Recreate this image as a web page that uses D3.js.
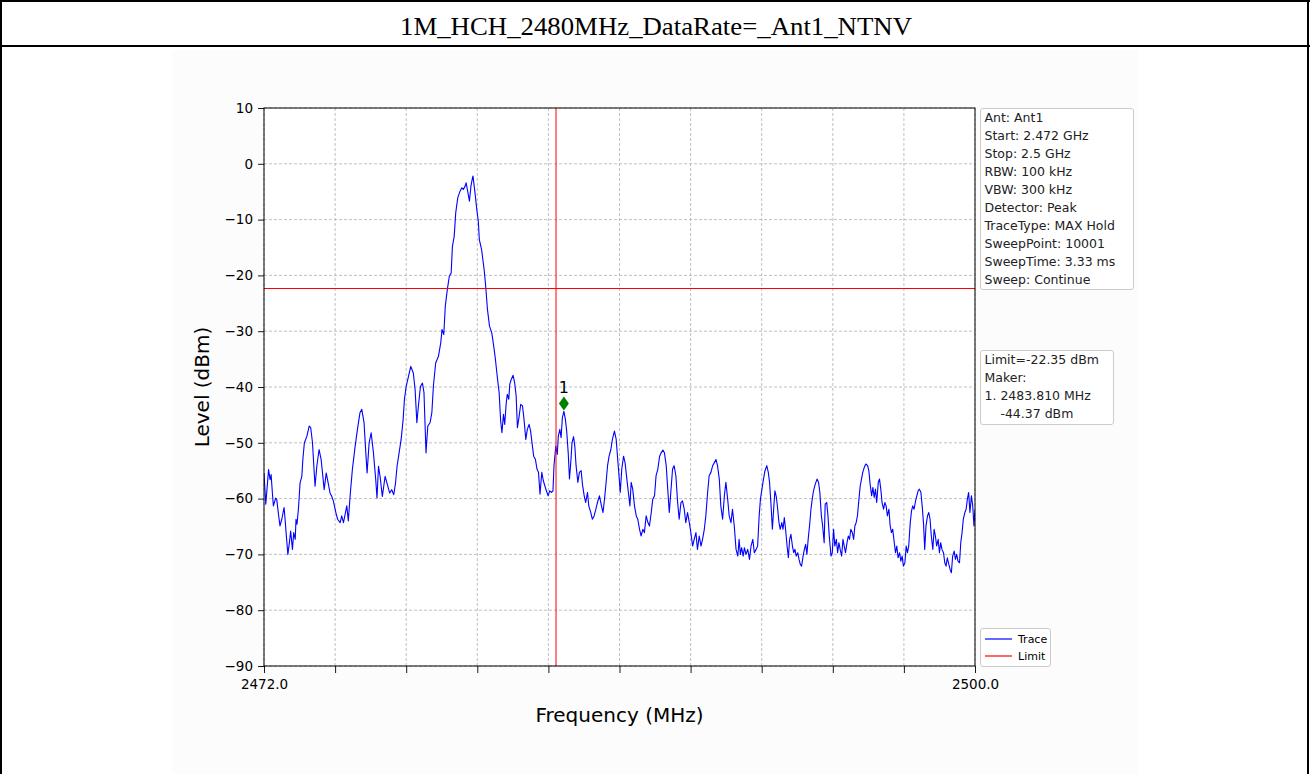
<!DOCTYPE html>
<html>
<head>
<meta charset="utf-8">
<script src="https://cdn.jsdelivr.net/npm/d3@7"></script>
<style>
  html, body { margin: 0; padding: 0; background: #fff; }
  svg { display: block; }
  text { font-family: "DejaVu Sans", sans-serif; }
</style>
</head>
<body>
<svg id="chart" width="1310" height="774"></svg>
<script>
// ---- data -------------------------------------------------------------
const title = "1M_HCH_2480MHz_DataRate=_Ant1_NTNV";
const freqStartMHz = 2472.0;
const freqStopMHz = 2500.0;
const levelTicks = [10, 0, -10, -20, -30, -40, -50, -60, -70, -80, -90];
const freqTicks = [2472.0, 2474.8, 2477.6, 2480.4, 2483.2, 2486.0, 2488.8, 2491.6, 2494.4, 2497.2, 2500.0];
const freqTickLabels = ["2472.0", "", "", "", "", "", "", "", "", "", "2500.0"];
const limitDbm = -22.35;
const bandEdgeMHz = 2483.5;
const marker = { id: "1", freqMHz: 2483.810, levelDbm: -44.37 };
const infoLines = [
  "Ant: Ant1", "Start: 2.472 GHz", "Stop: 2.5 GHz", "RBW: 100 kHz", "VBW: 300 kHz",
  "Detector: Peak", "TraceType: MAX Hold", "SweepPoint: 10001", "SweepTime: 3.33 ms", "Sweep: Continue"
];
const limitLines = ["Limit=-22.35 dBm", "Maker:", "1. 2483.810 MHz", "    -44.37 dBm"];
const legendItems = [{ name: "Trace", color: "#0000ff" }, { name: "Limit", color: "#ff0000" }];

// max-hold trace: [frequency MHz, level dBm]
const trace = [
  [2472.00,-55.4],[2472.07,-61.0],[2472.18,-54.8],[2472.24,-56.6],[2472.28,-55.7],[2472.33,-59.0],[2472.37,-61.3],[2472.46,-59.9],[2472.50,-60.1],[2472.57,-62.8],
  [2472.63,-64.9],[2472.70,-63.7],[2472.79,-61.6],[2472.83,-63.7],[2472.87,-66.1],[2472.94,-70.0],[2473.00,-67.9],[2473.05,-65.8],[2473.12,-69.1],[2473.17,-66.1],
  [2473.23,-67.3],[2473.26,-63.7],[2473.30,-64.6],[2473.36,-61.6],[2473.42,-57.2],[2473.49,-56.0],[2473.53,-53.0],[2473.59,-50.0],[2473.69,-48.8],[2473.78,-47.0],
  [2473.84,-47.3],[2473.91,-50.0],[2473.97,-54.8],[2474.01,-57.8],[2474.08,-54.2],[2474.17,-51.2],[2474.25,-53.0],[2474.33,-56.6],[2474.37,-58.4],[2474.45,-55.4],
  [2474.54,-57.5],[2474.60,-59.0],[2474.67,-59.6],[2474.73,-60.4],[2474.83,-62.5],[2474.90,-63.7],[2475.00,-64.3],[2475.06,-63.1],[2475.13,-64.3],[2475.26,-61.3],
  [2475.32,-64.0],[2475.40,-59.0],[2475.48,-54.8],[2475.59,-50.6],[2475.68,-47.6],[2475.78,-44.6],[2475.85,-44.0],[2475.94,-46.4],[2476.01,-51.8],[2476.06,-55.4],
  [2476.14,-50.0],[2476.22,-48.2],[2476.31,-51.8],[2476.40,-56.6],[2476.45,-59.9],[2476.51,-54.2],[2476.57,-56.0],[2476.66,-59.6],[2476.77,-56.0],[2476.86,-57.5],
  [2476.95,-59.0],[2477.03,-58.4],[2477.11,-59.3],[2477.18,-57.2],[2477.24,-54.2],[2477.32,-51.8],[2477.40,-49.4],[2477.48,-45.8],[2477.53,-42.2],[2477.60,-39.9],
  [2477.69,-38.1],[2477.78,-36.3],[2477.88,-37.5],[2477.95,-40.4],[2478.02,-46.4],[2478.08,-43.4],[2478.16,-39.9],[2478.24,-39.3],[2478.30,-41.0],[2478.38,-51.8],
  [2478.45,-47.0],[2478.54,-46.4],[2478.61,-44.6],[2478.67,-39.9],[2478.76,-35.7],[2478.87,-34.5],[2478.96,-32.1],[2479.01,-29.7],[2479.08,-30.6],[2479.14,-25.5],
  [2479.22,-22.5],[2479.30,-20.1],[2479.37,-19.6],[2479.42,-14.8],[2479.49,-13.0],[2479.55,-8.8],[2479.63,-6.1],[2479.72,-4.9],[2479.79,-4.3],[2479.85,-4.6],
  [2479.92,-4.0],[2479.96,-3.4],[2480.02,-4.9],[2480.09,-6.7],[2480.15,-4.0],[2480.21,-2.5],[2480.23,-2.2],[2480.31,-5.2],[2480.38,-8.2],[2480.44,-10.3],
  [2480.48,-13.6],[2480.57,-15.4],[2480.67,-19.0],[2480.73,-21.9],[2480.80,-26.1],[2480.88,-29.1],[2480.97,-30.3],[2481.01,-31.5],[2481.10,-34.5],
  [2481.19,-38.3],[2481.26,-41.0],[2481.32,-46.1],[2481.37,-48.2],[2481.43,-44.9],[2481.48,-46.7],[2481.54,-42.8],[2481.58,-41.3],[2481.64,-42.2],[2481.68,-39.5],
  [2481.74,-38.6],[2481.81,-37.9],[2481.87,-39.2],[2481.93,-41.6],[2481.98,-47.3],[2482.04,-45.5],[2482.11,-43.1],[2482.18,-43.4],[2482.24,-45.8],[2482.31,-49.4],
  [2482.37,-47.6],[2482.44,-46.7],[2482.50,-47.9],[2482.57,-50.6],[2482.62,-52.4],[2482.69,-53.0],[2482.75,-54.7],[2482.81,-55.3],[2482.87,-59.2],[2482.94,-55.3],
  [2483.00,-56.8],[2483.06,-57.7],[2483.12,-58.6],[2483.19,-59.5],[2483.25,-58.6],[2483.32,-58.9],[2483.38,-58.6],[2483.42,-54.1],[2483.49,-50.6],[2483.55,-52.1],
  [2483.59,-48.8],[2483.65,-47.6],[2483.70,-49.1],[2483.75,-45.5],[2483.81,-44.37],[2483.87,-45.8],[2483.92,-47.9],[2483.98,-51.8],[2484.03,-56.5],[2484.08,-53.6],
  [2484.13,-50.0],[2484.19,-48.9],[2484.24,-50.6],[2484.29,-54.1],[2484.36,-57.1],[2484.42,-55.3],[2484.49,-55.0],[2484.54,-57.4],[2484.61,-59.5],[2484.67,-60.7],
  [2484.74,-58.9],[2484.79,-61.3],[2484.87,-62.5],[2484.93,-63.7],[2485.00,-63.1],[2485.07,-61.9],[2485.13,-60.7],[2485.21,-59.5],[2485.29,-61.3],[2485.35,-62.5],
  [2485.41,-60.1],[2485.46,-57.7],[2485.53,-54.1],[2485.59,-52.4],[2485.66,-51.2],[2485.72,-49.4],[2485.80,-47.9],[2485.87,-49.4],[2485.93,-53.0],[2485.99,-56.5],
  [2486.03,-58.9],[2486.09,-54.7],[2486.16,-52.4],[2486.22,-53.6],[2486.29,-56.5],[2486.35,-58.9],[2486.41,-61.3],[2486.46,-57.1],[2486.52,-58.3],[2486.59,-61.3],
  [2486.66,-63.1],[2486.72,-63.7],[2486.79,-65.5],[2486.85,-66.7],[2486.92,-65.5],[2486.98,-66.1],[2487.05,-63.1],[2487.12,-64.3],[2487.18,-64.9],[2487.25,-62.5],
  [2487.31,-60.1],[2487.38,-59.5],[2487.44,-55.9],[2487.51,-54.7],[2487.58,-52.4],[2487.64,-51.8],[2487.71,-51.3],[2487.77,-51.8],[2487.84,-54.1],[2487.90,-58.3],
  [2487.96,-62.5],[2488.02,-58.9],[2488.09,-54.7],[2488.15,-54.1],[2488.22,-55.9],[2488.29,-60.7],[2488.35,-63.7],[2488.42,-60.7],[2488.48,-60.4],[2488.55,-61.9],
  [2488.61,-64.3],[2488.68,-62.5],[2488.75,-64.3],[2488.81,-66.1],[2488.88,-68.5],[2488.94,-67.3],[2489.01,-66.1],[2489.07,-69.1],[2489.14,-66.7],[2489.21,-68.5],
  [2489.27,-67.3],[2489.34,-65.5],[2489.40,-63.1],[2489.47,-58.9],[2489.53,-55.9],[2489.60,-55.3],[2489.67,-54.1],[2489.73,-53.6],[2489.80,-53.0],[2489.86,-54.1],
  [2489.93,-56.5],[2489.99,-61.3],[2490.06,-63.7],[2490.13,-59.5],[2490.19,-57.1],[2490.26,-60.1],[2490.32,-63.1],[2490.39,-64.3],[2490.45,-61.9],[2490.52,-64.9],
  [2490.59,-69.1],[2490.66,-70.3],[2490.71,-67.3],[2490.76,-70.0],[2490.81,-68.8],[2490.87,-70.3],[2490.92,-68.8],[2490.98,-70.0],[2491.05,-69.1],[2491.12,-70.9],
  [2491.18,-68.5],[2491.25,-67.3],[2491.31,-69.7],[2491.38,-69.1],[2491.44,-68.5],[2491.50,-63.1],[2491.55,-60.1],[2491.61,-58.3],[2491.67,-56.5],[2491.73,-55.0],
  [2491.80,-54.1],[2491.86,-55.3],[2491.91,-57.1],[2491.97,-61.3],[2492.02,-65.5],[2492.07,-61.9],[2492.12,-58.6],[2492.18,-59.8],[2492.23,-61.9],[2492.28,-64.3],
  [2492.33,-65.5],[2492.39,-64.3],[2492.44,-65.5],[2492.49,-63.4],[2492.54,-65.5],[2492.60,-68.5],[2492.65,-70.6],[2492.70,-67.3],[2492.75,-66.4],[2492.81,-68.5],
  [2492.86,-69.7],[2492.91,-69.1],[2492.96,-70.3],[2493.02,-69.7],[2493.07,-70.9],[2493.12,-71.8],[2493.17,-72.1],[2493.23,-70.3],[2493.28,-69.1],[2493.33,-68.2],
  [2493.38,-70.0],[2493.43,-67.3],[2493.49,-64.6],[2493.54,-61.9],[2493.59,-60.1],[2493.64,-58.6],[2493.71,-57.4],[2493.78,-56.5],[2493.84,-57.1],[2493.89,-58.9],
  [2493.95,-63.1],[2494.00,-64.9],[2494.06,-67.9],[2494.10,-61.0],[2494.16,-60.7],[2494.21,-63.1],[2494.26,-66.7],[2494.33,-70.3],[2494.38,-69.7],[2494.43,-65.5],
  [2494.48,-68.5],[2494.54,-67.3],[2494.59,-69.7],[2494.64,-67.9],[2494.69,-69.1],[2494.75,-70.3],[2494.80,-67.3],[2494.85,-68.5],[2494.90,-69.7],[2494.96,-67.9],
  [2495.01,-66.7],[2495.06,-67.3],[2495.11,-65.5],[2495.17,-66.1],[2495.22,-67.3],[2495.27,-64.9],[2495.32,-64.3],[2495.37,-63.1],[2495.43,-60.1],[2495.48,-57.7],
  [2495.53,-56.5],[2495.58,-55.3],[2495.64,-54.4],[2495.70,-53.8],[2495.77,-54.1],[2495.82,-55.0],[2495.87,-57.4],[2495.93,-59.5],[2495.98,-58.0],[2496.03,-59.8],
  [2496.08,-58.3],[2496.13,-60.7],[2496.19,-57.1],[2496.24,-56.5],[2496.29,-58.3],[2496.34,-60.7],[2496.40,-61.9],[2496.45,-60.7],[2496.50,-61.3],[2496.55,-63.1],
  [2496.61,-61.9],[2496.66,-64.9],[2496.71,-66.1],[2496.76,-65.5],[2496.82,-67.9],[2496.87,-69.7],[2496.92,-68.5],[2496.97,-70.6],[2497.03,-69.7],[2497.08,-71.2],
  [2497.13,-70.3],[2497.18,-72.1],[2497.24,-71.5],[2497.29,-68.5],[2497.34,-69.7],[2497.39,-68.5],[2497.45,-64.3],[2497.50,-62.2],[2497.55,-61.3],[2497.60,-61.9],
  [2497.66,-60.4],[2497.71,-59.5],[2497.76,-58.6],[2497.81,-58.3],[2497.87,-58.9],[2497.92,-61.3],[2497.97,-64.3],[2498.02,-69.1],[2498.07,-64.9],[2498.13,-63.1],
  [2498.18,-62.5],[2498.23,-63.7],[2498.28,-66.7],[2498.34,-69.1],[2498.39,-65.5],[2498.44,-66.7],[2498.49,-68.5],[2498.55,-67.3],[2498.60,-69.7],[2498.65,-67.9],
  [2498.70,-69.1],[2498.76,-69.7],[2498.81,-71.5],[2498.86,-72.1],[2498.91,-70.6],[2498.97,-71.8],[2499.02,-72.7],[2499.07,-73.3],[2499.12,-70.3],[2499.18,-69.4],
  [2499.23,-70.9],[2499.28,-70.0],[2499.33,-71.2],[2499.39,-71.5],[2499.44,-67.9],[2499.49,-66.1],[2499.54,-63.7],[2499.60,-62.5],[2499.65,-61.9],[2499.70,-60.1],
  [2499.75,-58.9],[2499.80,-62.5],[2499.86,-59.5],[2499.91,-61.3],[2499.96,-64.9],[2500.00,-62.0]
];

// ---- layout -----------------------------------------------------------
const W = 1310, H = 774;
const plot = { left: 264, top: 108, right: 975, bottom: 666 };
const minus = s => String(s).replace("-", "\u2212");

const svg = d3.select("#chart");

// page frame: outer border and title row
svg.append("rect").attr("x", 0).attr("y", 0).attr("width", W).attr("height", H).attr("fill", "#fff");
svg.append("rect").attr("x", 172).attr("y", 50).attr("width", 966).attr("height", H - 50).attr("fill", "#fcfcfc");
const frame = svg.append("g").attr("stroke", "#000").attr("stroke-width", 2);
frame.append("line").attr("x1", 0).attr("x2", W).attr("y1", 1).attr("y2", 1);
frame.append("line").attr("x1", 0).attr("x2", W).attr("y1", 46).attr("y2", 46);
frame.append("line").attr("x1", 1).attr("x2", 1).attr("y1", 0).attr("y2", H);
frame.append("line").attr("x1", W - 2).attr("x2", W - 2).attr("y1", 0).attr("y2", H);

svg.append("text")
  .attr("x", 656).attr("y", 35)
  .attr("text-anchor", "middle")
  .attr("textLength", 512)
  .attr("lengthAdjust", "spacingAndGlyphs")
  .style("font-family", "'Liberation Serif', 'Times New Roman', serif")
  .style("font-size", "25px")
  .attr("fill", "#000")
  .text(title);

// ---- scales -----------------------------------------------------------
const x = d3.scaleLinear().domain([freqStartMHz, freqStopMHz]).range([plot.left, plot.right]);
const y = d3.scaleLinear().domain([-90, 10]).range([plot.bottom, plot.top]);

svg.append("rect")
  .attr("x", plot.left).attr("y", plot.top)
  .attr("width", plot.right - plot.left).attr("height", plot.bottom - plot.top)
  .attr("fill", "#fff");

// grid
const grid = svg.append("g").attr("stroke", "#b0b0b0").attr("stroke-width", 0.8).attr("stroke-dasharray", "3,2");
grid.selectAll(".gx").data(freqTicks).join("line")
  .attr("x1", d => x(d)).attr("x2", d => x(d))
  .attr("y1", plot.top).attr("y2", plot.bottom);
grid.selectAll(".gy").data(levelTicks).join("line")
  .attr("x1", plot.left).attr("x2", plot.right)
  .attr("y1", d => y(d)).attr("y2", d => y(d));

// clip for plotted series
svg.append("defs").append("clipPath").attr("id", "plotClip")
  .append("rect")
  .attr("x", plot.left).attr("y", plot.top)
  .attr("width", plot.right - plot.left).attr("height", plot.bottom - plot.top);

const series = svg.append("g").attr("clip-path", "url(#plotClip)");

// trace
series.append("path")
  .datum(trace)
  .attr("fill", "none")
  .attr("stroke", "#0000ff")
  .attr("stroke-width", 1.1)
  .attr("stroke-linejoin", "round")
  .attr("d", d3.line().x(d => x(d[0])).y(d => y(d[1])));

// limit line and band edge
series.append("line")
  .attr("x1", plot.left).attr("x2", plot.right)
  .attr("y1", y(limitDbm)).attr("y2", y(limitDbm))
  .attr("stroke", "#ff0000").attr("stroke-width", 1);
series.append("line")
  .attr("x1", x(bandEdgeMHz)).attr("x2", x(bandEdgeMHz))
  .attr("y1", plot.top).attr("y2", plot.bottom)
  .attr("stroke", "#ff0000").attr("stroke-width", 1);

// marker: thin diamond sitting just above the trace point, with its id
const mx = x(marker.freqMHz), my = y(marker.levelDbm) - 8;
svg.append("path")
  .attr("d", `M${mx},${my - 7} L${mx + 5},${my} L${mx},${my + 7} L${mx - 5},${my} Z`)
  .attr("fill", "#008000");
svg.append("text")
  .attr("x", mx).attr("y", my - 10)
  .attr("text-anchor", "middle")
  .style("font-size", "16px")
  .attr("fill", "#000")
  .text(marker.id);

// axes
const yAxis = d3.axisLeft(y).tickValues(levelTicks).tickSize(6).tickPadding(5).tickFormat(minus);
const xAxis = d3.axisBottom(x).tickValues(freqTicks).tickSize(7).tickPadding(6)
  .tickFormat((d, i) => freqTickLabels[i]);

const gy = svg.append("g").attr("transform", `translate(${plot.left},0)`).call(yAxis);
const gx = svg.append("g").attr("transform", `translate(0,${plot.bottom})`).call(xAxis);
[gx, gy].forEach(g => {
  g.select(".domain").remove();
  g.selectAll(".tick line").attr("stroke", "#000").attr("stroke-width", 0.9);
  g.selectAll(".tick text").attr("fill", "#000").style("font-size", "13.5px").style("font-family", "'DejaVu Sans', sans-serif");
});

// spines
svg.append("rect")
  .attr("x", plot.left).attr("y", plot.top)
  .attr("width", plot.right - plot.left).attr("height", plot.bottom - plot.top)
  .attr("fill", "none").attr("stroke", "#000").attr("stroke-width", 1);

// axis titles
svg.append("text")
  .attr("transform", `translate(209,${(plot.top + plot.bottom) / 2}) rotate(-90)`)
  .attr("text-anchor", "middle")
  .style("font-size", "20px")
  .attr("fill", "#000")
  .text("Level (dBm)");
svg.append("text")
  .attr("x", (plot.left + plot.right) / 2).attr("y", 722)
  .attr("text-anchor", "middle")
  .style("font-size", "20px")
  .attr("fill", "#000")
  .text("Frequency (MHz)");

// text boxes on the right
function textBox(lines, x0, y0, w, lineH, h) {
  const g = svg.append("g");
  g.append("rect")
    .attr("x", x0).attr("y", y0).attr("width", w).attr("height", h)
    .attr("rx", 2.5).attr("ry", 2.5)
    .attr("fill", "#fff").attr("stroke", "#cccccc").attr("stroke-width", 1);
  g.selectAll("text").data(lines).join("text")
    .attr("x", x0 + 4)
    .attr("y", (d, i) => y0 + 13 + i * lineH)
    .attr("xml:space", "preserve")
    .style("white-space", "pre")
    .style("font-size", "12.5px")
    .attr("fill", "#222")
    .text(d => d);
}
textBox(infoLines, 980.5, 108.5, 153, 18, 181);
textBox(limitLines, 980.5, 350.5, 133, 18, 74);

// legend
const lg = svg.append("g");
lg.append("rect")
  .attr("x", 980.5).attr("y", 628.5).attr("width", 70).attr("height", 38)
  .attr("rx", 2.5).attr("ry", 2.5)
  .attr("fill", "#fff").attr("stroke", "#cccccc").attr("stroke-width", 1);
legendItems.forEach((item, i) => {
  const cy = 639 + i * 17;
  lg.append("line")
    .attr("x1", 985).attr("x2", 1012).attr("y1", cy).attr("y2", cy)
    .attr("stroke", item.color).attr("stroke-width", 1.2);
  lg.append("text")
    .attr("x", 1018).attr("y", cy + 4)
    .style("font-size", "11px")
    .attr("fill", "#000")
    .text(item.name);
});
</script>
</body>
</html>
